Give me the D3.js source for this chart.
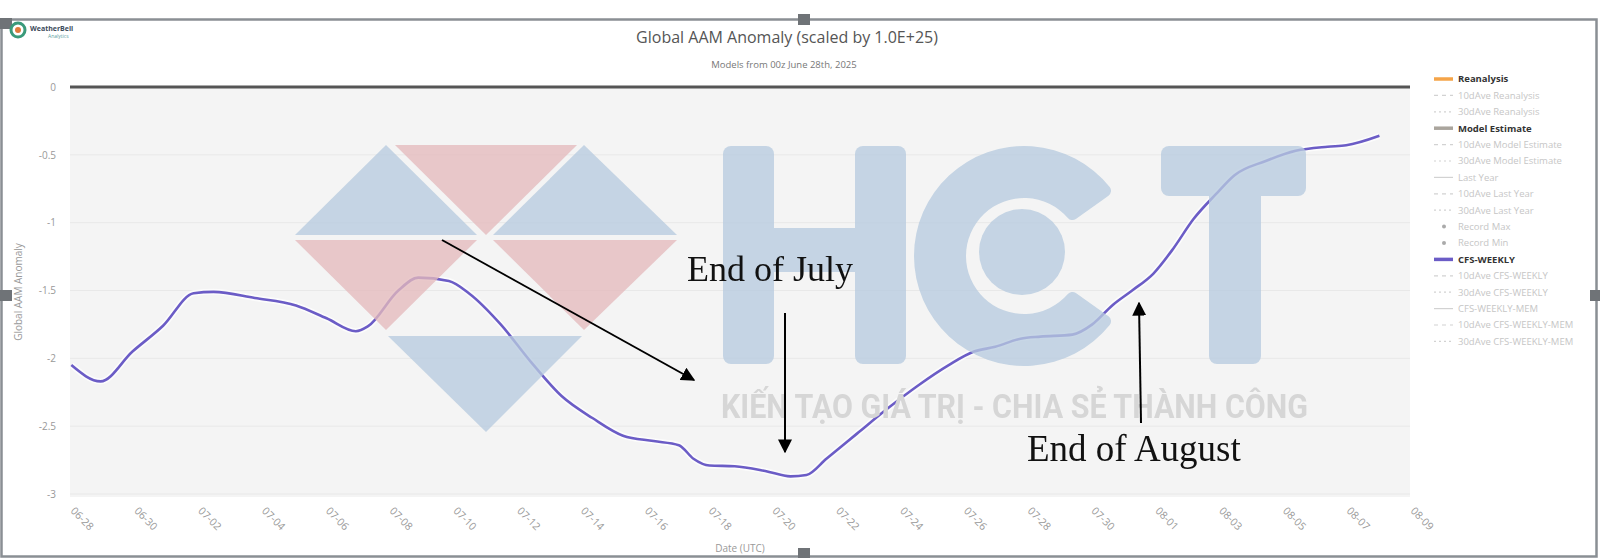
<!DOCTYPE html>
<html><head><meta charset="utf-8">
<script src="https://cdn.jsdelivr.net/npm/d3@7"></script>
<style>body{margin:0;background:#fff;} svg{display:block;font-family:"Open Sans",sans-serif;}</style>
</head><body><svg id="c" width="1600" height="558"></svg>
<script>
// ---------- data ----------
const titleText = "Global AAM Anomaly (scaled by 1.0E+25)";
const subtitleText = "Models from 00z June 28th, 2025";
const xTickLabels = ["06-28","06-30","07-02","07-04","07-06","07-08","07-10","07-12","07-14","07-16","07-18","07-20","07-22","07-24","07-26","07-28","07-30","08-01","08-03","08-05","08-07","08-09"];
const yTickValues = [0,-0.5,-1,-1.5,-2,-2.5,-3];
const cfsDates = ["2025-06-28T01","2025-06-28T23","2025-06-29T23","2025-06-30T22","2025-07-01T21","2025-07-02T12","2025-07-03T19","2025-07-05T02","2025-07-06T01","2025-07-06T23","2025-07-07T08","2025-07-08T07","2025-07-08T22","2025-07-09T21","2025-07-10T12","2025-07-11T12","2025-07-12T11","2025-07-13T10","2025-07-14T09","2025-07-15T08","2025-07-16T07","2025-07-17T02","2025-07-17T13","2025-07-18T01","2025-07-18T20","2025-07-19T19","2025-07-20T14","2025-07-21T02","2025-07-21T17","2025-07-22T16","2025-07-23T15","2025-07-24T14","2025-07-25T13","2025-07-26T08","2025-07-27T00","2025-07-27T19","2025-07-28T10","2025-07-29T10","2025-07-30T01","2025-07-30T16","2025-07-31T07","2025-07-31T23","2025-08-01T14","2025-08-02T05","2025-08-02T22","2025-08-03T12","2025-08-04T11","2025-08-05T10","2025-08-06T10","2025-08-07T00","2025-08-08T01"];
const cfsValues = [-2.05,-2.17,-1.95,-1.76,-1.52,-1.51,-1.555,-1.61,-1.705,-1.80,-1.765,-1.50,-1.405,-1.43,-1.52,-1.75,-2.03,-2.28,-2.44,-2.57,-2.61,-2.64,-2.74,-2.79,-2.795,-2.83,-2.87,-2.86,-2.74,-2.555,-2.37,-2.20,-2.05,-1.95,-1.915,-1.855,-1.84,-1.825,-1.75,-1.61,-1.50,-1.375,-1.19,-0.975,-0.79,-0.65,-0.547,-0.47,-0.44,-0.43,-0.36];
const legendLabels = ["Reanalysis","10dAve Reanalysis","30dAve Reanalysis","Model Estimate","10dAve Model Estimate","30dAve Model Estimate","Last Year","10dAve Last Year","30dAve Last Year","Record Max","Record Min","CFS-WEEKLY","10dAve CFS-WEEKLY","30dAve CFS-WEEKLY","CFS-WEEKLY-MEM","10dAve CFS-WEEKLY-MEM","30dAve CFS-WEEKLY-MEM"];
const legendKinds = ["solid","dash","dot","solid","dash","dot","thin","dash","dot","mark","mark","solid","dash","dot","thin","dash","dot"];
const legendColors = ["#f5a448",null,null,"#aaa59d",null,null,null,null,null,null,null,"#6b5cc6",null,null,null,null,null];
const annotationTexts = ["End of July","End of August"];
const taglineText = "KIẾN TẠO GIÁ TRỊ - CHIA SẺ THÀNH CÔNG";

// ---------- setup ----------
const svg = d3.select("#c");
const parseT = d3.utcParse("%Y-%m-%dT%H");
const parseTick = s => d3.utcParse("%Y-%m-%d")("2025-" + s);
const x = d3.scaleUtc().domain([parseTick("06-28"), parseTick("08-09")]).range([70, 1410]);
const y = d3.scaleLinear().domain([-3, 0]).range([494, 87]);

// frame
svg.append("rect").attr("x",0).attr("y",0).attr("width",1600).attr("height",558).attr("fill","#fff");
svg.append("rect").attr("x",1.5).attr("y",19.5).attr("width",1595).attr("height",537).attr("fill","none").attr("stroke","#8a8f94").attr("stroke-width",2.5);
[[0,18],[798,14],[0,290],[1590,290],[798,548]].forEach(([hx,hy])=>{
  svg.append("rect").attr("x",hx).attr("y",hy).attr("width",12).attr("height",11).attr("fill","#6f7377");
});

// logo
svg.append("circle").attr("cx",18).attr("cy",30).attr("r",7).attr("fill","none").attr("stroke","#3a9a7a").attr("stroke-width",3);
svg.append("circle").attr("cx",18).attr("cy",30).attr("r",3).attr("fill","#e07a3a");
svg.append("text").attr("x",30).attr("y",31).attr("font-size",7).attr("font-weight","bold").attr("fill","#3c4a5a").text("WeatherBell");
svg.append("text").attr("x",48).attr("y",38).attr("font-size",5).attr("fill","#5aa0a0").text("Analytics");

// titles
svg.append("text").attr("x",787).attr("y",43).attr("text-anchor","middle").attr("font-size",16).attr("fill","#555").text(titleText);
svg.append("text").attr("x",784).attr("y",68).attr("text-anchor","middle").attr("font-size",9.5).attr("fill","#777").text(subtitleText);

// plot background
svg.append("rect").attr("x",70).attr("y",87).attr("width",1340).attr("height",410).attr("fill","#f4f4f4");

// grid
svg.append("g").selectAll("line").data(yTickValues.slice(1)).join("line")
  .attr("x1",70).attr("x2",1410).attr("y1",d=>y(d)).attr("y2",d=>y(d)).attr("stroke","#e8e8e8").attr("stroke-width",1);

// y axis
const yAxis = d3.axisLeft(y).tickValues(yTickValues).tickFormat(d=>String(d)).tickSize(0).tickPadding(14);
const gy = svg.append("g").attr("transform","translate(70,0)").call(yAxis);
gy.select(".domain").remove();
gy.selectAll("text").attr("font-size",10).attr("fill","#999").attr("font-family","Open Sans, sans-serif");

// x axis
const tickDates = xTickLabels.map(parseTick);
const xAxis = d3.axisBottom(x).tickValues(tickDates).tickFormat(d3.utcFormat("%m-%d")).tickSize(0);
const gx = svg.append("g").attr("transform","translate(0,497)").call(xAxis);
gx.select(".domain").remove();
gx.selectAll("text").attr("font-size",10.5).attr("fill","#999").attr("font-family","Open Sans, sans-serif")
  .attr("text-anchor","start").attr("dy","0.35em").attr("y",0)
  .attr("transform","translate(2,12) rotate(45)");

// axis titles
svg.append("text").attr("transform","translate(22,292) rotate(-90)").attr("text-anchor","middle").attr("font-size",10).attr("fill","#999").text("Global AAM Anomaly");
svg.append("text").attr("x",740).attr("y",552).attr("text-anchor","middle").attr("font-size",10).attr("fill","#999").text("Date (UTC)");

// zero line
svg.append("line").attr("x1",70).attr("x2",1410).attr("y1",y(0)).attr("y2",y(0)).attr("stroke","#555").attr("stroke-width",3);

// series
const series = cfsDates.map((d,i)=>({t:parseT(d), v:cfsValues[i]}));
const line = d3.line().x(d=>x(d.t)).y(d=>y(d.v)).curve(d3.curveMonotoneX);
svg.append("path").datum(series).attr("d",line).attr("fill","none").attr("stroke","#fff").attr("stroke-opacity",0.7).attr("stroke-width",6);
svg.append("path").datum(series).attr("d",line).attr("fill","none").attr("stroke","#6b5cc6").attr("stroke-width",2.6);

// legend
const lg = svg.append("g").attr("transform","translate(1434,79)");
legendLabels.forEach((lab,i)=>{
  const gyy = i*16.4;
  const kind = legendKinds[i];
  const col = legendColors[i];
  const active = !!col;
  const g = lg.append("g").attr("transform",`translate(0,${gyy})`);
  if (kind==="mark") {
    g.append("circle").attr("cx",10).attr("cy",0).attr("r",2).attr("fill","#aaa");
  } else {
    const l = g.append("line").attr("x1",0).attr("x2",19).attr("y1",0).attr("y2",0)
      .attr("stroke", col || "#d2d2d2").attr("stroke-width", active?3.5:1.2);
    if (kind==="dash") l.attr("stroke-dasharray","4,4");
    if (kind==="dot") l.attr("stroke-dasharray","2,3");
  }
  g.append("text").attr("x",24).attr("y",0).attr("dy","0.35em").attr("font-size",9.5)
    .attr("font-weight",active?"bold":"normal").attr("fill",active?"#333":"#c6c6c6").text(lab);
});

// watermark
const wm = svg.append("g").attr("opacity",0.78);
const blue = "#b7cbdf", pink = "#e4babd";
const tris = [
  {c:blue, p:[[295,235],[477,235],[386,145]]},
  {c:pink, p:[[395,145],[577,145],[486,235]]},
  {c:blue, p:[[493,235],[677,235],[584,145]]},
  {c:pink, p:[[295,240],[477,240],[386,330]]},
  {c:pink, p:[[493,240],[677,240],[584,330]]},
  {c:blue, p:[[388,336],[582,336],[486,432]]}
];
tris.forEach(t=>wm.append("path").attr("d","M"+t.p.map(q=>q.join(",")).join("L")+"Z").attr("fill",t.c));
// H
wm.append("rect").attr("x",723).attr("y",146).attr("width",51).attr("height",218).attr("rx",8).attr("fill",blue);
wm.append("rect").attr("x",855).attr("y",146).attr("width",51).attr("height",218).attr("rx",8).attr("fill",blue);
wm.append("rect").attr("x",770).attr("y",228).attr("width",90).attr("height",44).attr("fill",blue);
// C (opening to the right)
const arcC = d3.arc().innerRadius(58).outerRadius(110)
  .startAngle(Math.PI/2 + 0.62).endAngle(Math.PI/2 + 2*Math.PI - 0.62).cornerRadius(6);
wm.append("path").attr("d",arcC()).attr("transform","translate(1024,256)").attr("fill",blue);
wm.append("circle").attr("cx",1022).attr("cy",252).attr("r",43).attr("fill",blue);
// T
wm.append("rect").attr("x",1161).attr("y",146).attr("width",145).attr("height",50).attr("rx",8).attr("fill",blue);
wm.append("rect").attr("x",1209).attr("y",146).attr("width",52).attr("height",218).attr("rx",8).attr("fill",blue);
// tagline
svg.append("text").attr("x",721).attr("y",418).attr("font-size",33).attr("font-weight","bold").attr("font-family","Roboto, sans-serif")
  .attr("fill","#d6d6d6").attr("textLength",587).attr("lengthAdjust","spacingAndGlyphs").text(taglineText);

// annotations
const defs = svg.append("defs");
defs.append("marker").attr("id","ah").attr("viewBox","0 0 10 10").attr("refX",9).attr("refY",5)
  .attr("markerWidth",7).attr("markerHeight",7).attr("orient","auto-start-reverse").attr("markerUnits","strokeWidth")
  .append("path").attr("d","M0,0L10,5L0,10Z").attr("fill","#000");
const arrows = [[442,240,694,380],[785,313,785,452],[1141,423,1139,303]];
arrows.forEach(a=>svg.append("line").attr("x1",a[0]).attr("y1",a[1]).attr("x2",a[2]).attr("y2",a[3])
  .attr("stroke","#000").attr("stroke-width",2).attr("marker-end","url(#ah)"));
svg.append("text").attr("x",687).attr("y",281).attr("font-size",36).attr("font-family","Liberation Serif, serif").attr("fill","#111").text(annotationTexts[0]);
svg.append("text").attr("x",1027).attr("y",461).attr("font-size",37).attr("font-family","Liberation Serif, serif").attr("fill","#111").text(annotationTexts[1]);
</script></body></html>
